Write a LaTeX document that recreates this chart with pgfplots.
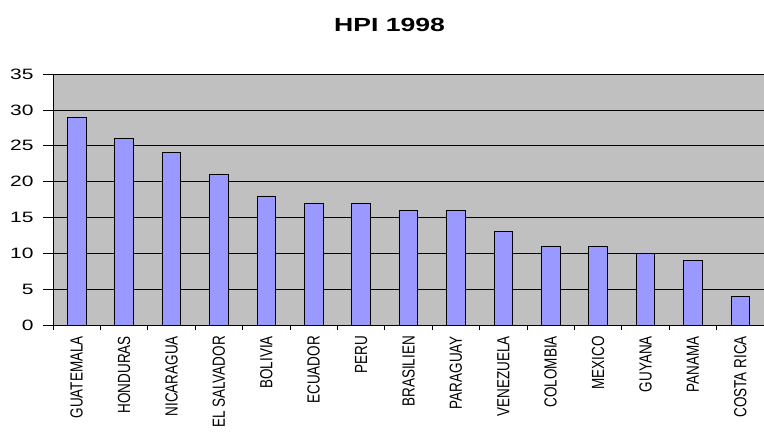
\documentclass[border=0pt]{standalone}
\usepackage{pgfplots}
\pgfplotsset{compat=1.18}
\usepackage{fontspec}
\setmainfont{Liberation Sans}
\definecolor{bgc}{HTML}{C0C0C0}
\definecolor{barc}{HTML}{9999FF}
\newcommand{\lab}[1]{\scalebox{1}[1.3]{#1}}
\begin{document}
\begin{tikzpicture}
\path[use as bounding box] (-53pt,-108pt) rectangle (711pt,325pt);
\begin{axis}[
 at={(0,0)}, anchor=south west, scale only axis,
 width=711pt, height=251pt,
 xmin=-0.5, xmax=14.5, ymin=0, ymax=35,
 axis background/.style={fill=bgc},
 axis line style={black, line width=0.8pt},
 ytick={0,5,...,35}, ymajorgrids, grid style={black, line width=0.6pt},
 xtick={0,...,14},
 xticklabels={\lab{GUATEMALA},\lab{HONDURAS},\lab{NICARAGUA},\lab{EL SALVADOR},\lab{BOLIVIA},\lab{ECUADOR},\lab{PERU},\lab{BRASILIEN},\lab{PARAGUAY},\lab{VENEZUELA},\lab{COLOMBIA},\lab{MEXICO},\lab{GUYANA},\lab{PANAMA},\lab{COSTA RICA}},
 major x tick style={draw=none},
 extra x ticks={-0.5,0.5,...,14.5},
 extra x tick labels={},
 extra x tick style={major tick length=5pt, tick pos=left, major x tick style={draw=black, line width=0.7pt}},
 tick align=outside, tick pos=left,
 major tick length=10pt,
 tick style={black, line width=0.7pt},
 xticklabel style={rotate=90, anchor=east, font=\fontsize{13.5}{13.5}\selectfont, inner sep=1pt},
 /pgf/number format/assume math mode=true,
 yticklabel={\scalebox{1.4}[1]{\pgfmathprintnumber{\tick}}},
 yticklabel style={font=\fontsize{15}{15}\selectfont, xshift=-6pt},
 clip=false,
]
\addplot[ybar, bar width=18.5pt, fill=barc, draw=black, line width=0.8pt] coordinates {
(0,29) (1,26) (2,24) (3,21) (4,18) (5,17) (6,17) (7,16) (8,16) (9,13) (10,11) (11,11) (12,10) (13,9) (14,4)};
\node[font=\bfseries\fontsize{19}{19}\selectfont] at (axis cs:6.6,35) [yshift=49pt] {\scalebox{1.4}[1]{HPI 1998}};
\end{axis}
\end{tikzpicture}
\end{document}
